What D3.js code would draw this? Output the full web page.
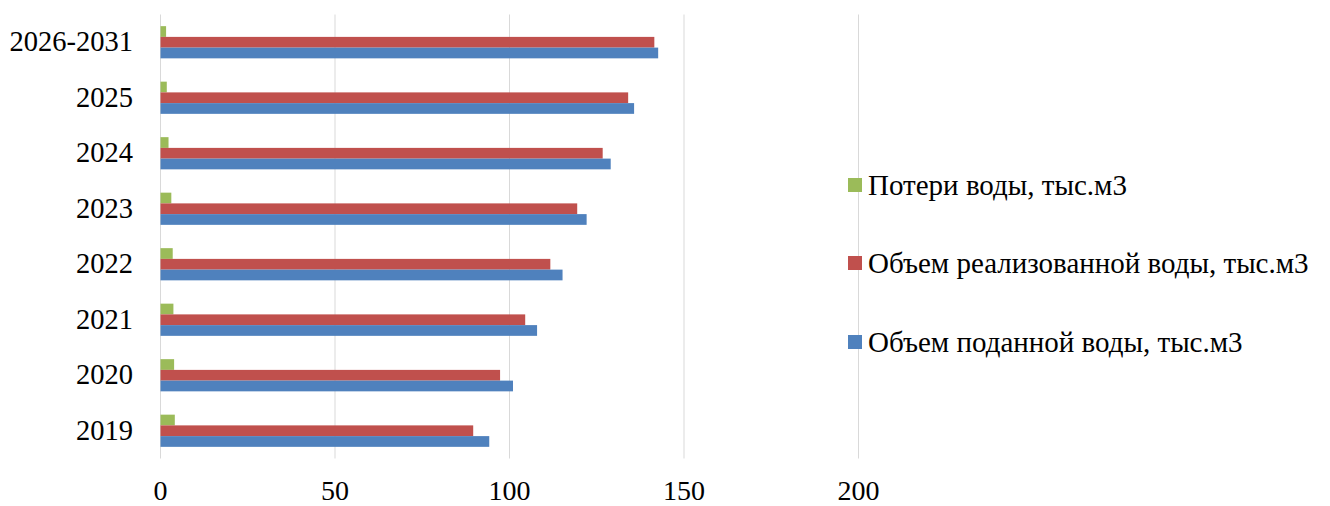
<!DOCTYPE html>
<html><head><meta charset="utf-8">
<script src="https://cdn.jsdelivr.net/npm/d3@7"></script>
<style>
html,body{margin:0;padding:0;background:#fff;}
svg text{font-family:"Liberation Serif","Times New Roman",serif;fill:#000;}
</style></head>
<body>
<svg id="chart" width="1330" height="506"></svg>
<script>
const categories = ["2026-2031","2025","2024","2023","2022","2021","2020","2019"];
const seriesNames = ["Потери воды, тыс.м3","Объем реализованной воды, тыс.м3","Объем поданной воды, тыс.м3"];
const lossValues = [1.6, 1.8, 2.3, 3.1, 3.5, 3.7, 3.9, 4.1];
const soldValues = [141.5, 134.0, 126.7, 119.4, 111.7, 104.5, 97.3, 89.6];
const suppliedValues = [142.6, 135.7, 129.0, 122.1, 115.2, 107.9, 101.0, 94.2];
const xTicks = [0, 50, 100, 150, 200];
const colors = ["#9BBB59","#C0504D","#4F81BD"];

const seriesValues = [lossValues, soldValues, suppliedValues];
const svg = d3.select("#chart");
const x = d3.scaleLinear().domain([0, 200]).range([160, 858]);
const y = d3.scaleBand().domain(categories).range([14.5, 458.5]).paddingInner(0.42).paddingOuter(0.21);
const ys = d3.scaleBand().domain(seriesNames).range([0, y.bandwidth()]);

// gridlines
const grid = svg.append("g").attr("transform", "translate(0,458.5)")
  .call(d3.axisBottom(x).tickValues(xTicks).tickSize(-444).tickFormat(""));
grid.select(".domain").remove();
grid.selectAll("line").attr("stroke", "#D9D9D9").attr("stroke-width", 1);

// bars
seriesNames.forEach((s, si) => {
  svg.append("g").selectAll("rect").data(categories).join("rect")
    .attr("x", x(0) + 0.5)
    .attr("y", c => y(c) + ys(s))
    .attr("width", (c, i) => x(seriesValues[si][i]) - x(0))
    .attr("height", ys.bandwidth())
    .attr("fill", colors[si]);
});

// x tick labels
const xa = svg.append("g").attr("transform", "translate(0,480)")
  .call(d3.axisBottom(x).tickValues(xTicks).tickSize(0).tickPadding(0));
xa.select(".domain").remove();
xa.selectAll("text").attr("font-size", 28).attr("dy", "0.71em")
  .attr("font-family", "Liberation Serif");

// y labels
const ya = svg.append("g").attr("transform", "translate(133,0)")
  .call(d3.axisLeft(y).tickSize(0).tickPadding(0));
ya.select(".domain").remove();
ya.selectAll("text").attr("font-size", 28.5).attr("font-family", "Liberation Serif");

// legend
const legY = [185, 263, 342];
const lg = svg.append("g");
seriesNames.forEach((s, i) => {
  lg.append("rect").attr("x", 848).attr("y", legY[i] - 7).attr("width", 14).attr("height", 14).attr("fill", colors[i]);
  lg.append("text").attr("x", 868).attr("y", legY[i]).attr("dy", "0.35em")
    .attr("font-size", 29).text(s);
});
</script>
</body></html>
